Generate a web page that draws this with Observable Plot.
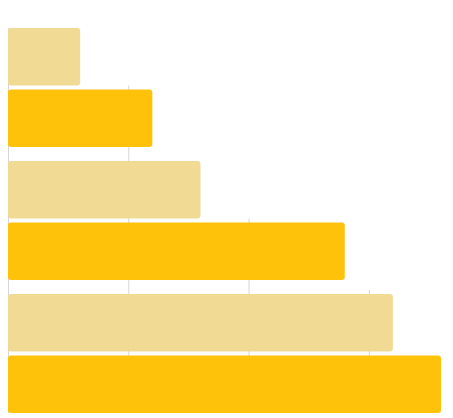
<!DOCTYPE html>
<html>
<head>
<meta charset="utf-8">
<script src="https://cdn.jsdelivr.net/npm/d3@7"></script>
<script src="https://cdn.jsdelivr.net/npm/@observablehq/plot@0.6"></script>
<style>
  html, body { margin: 0; padding: 0; background: #fff; }
  svg { display: block; }
</style>
</head>
<body>
<script>
// Data
const groups = ["G1", "G2", "G3"];
const seriesNames = ["light", "gold"];
const lightValues = [12, 32, 64];
const goldValues = [24, 56, 72];
const xTicks = [0, 20, 40, 60];
const seriesColors = ["#EFD990", "#FFBF00"];

// Layout (code, not data)
const barH = 57.5, innerGap = 4, groupGap = 14;
const groupPitch = 2 * barH + innerGap + groupGap;

const bars = [];
groups.forEach((g, gi) => {
  [lightValues[gi], goldValues[gi]].forEach((v, si) => {
    const top = gi * groupPitch + si * (barH + innerGap);
    bars.push({group: g, series: seriesNames[si], value: v, top, bottom: top + barH, order: gi * 2 + si});
  });
});
const total = 3 * groupPitch - groupGap;

const grid = xTicks.map(t => {
  const first = bars.find(b => b.value > t);
  return {x: t, y1: t === 0 ? first.top : first.top - 4, y2: total};
});

const chart = Plot.plot({
  width: 453,
  height: 418,
  marginTop: 28,
  marginBottom: 5,
  marginLeft: 8,
  marginRight: 12,
  x: {domain: [0, 72], axis: null},
  y: {domain: [0, total], reverse: true, axis: null},
  color: {domain: seriesNames, range: seriesColors},
  marks: [
    Plot.ruleX(grid, {x: "x", y1: "y1", y2: "y2", stroke: "#d6d6d6", strokeWidth: 1}),
    Plot.rectX(bars, {x1: 0, x2: "value", y1: "top", y2: "bottom", fill: "series", fillOpacity: 0.96, rx: 3})
  ]
});
document.body.appendChild(chart);
</script>
</body>
</html>
